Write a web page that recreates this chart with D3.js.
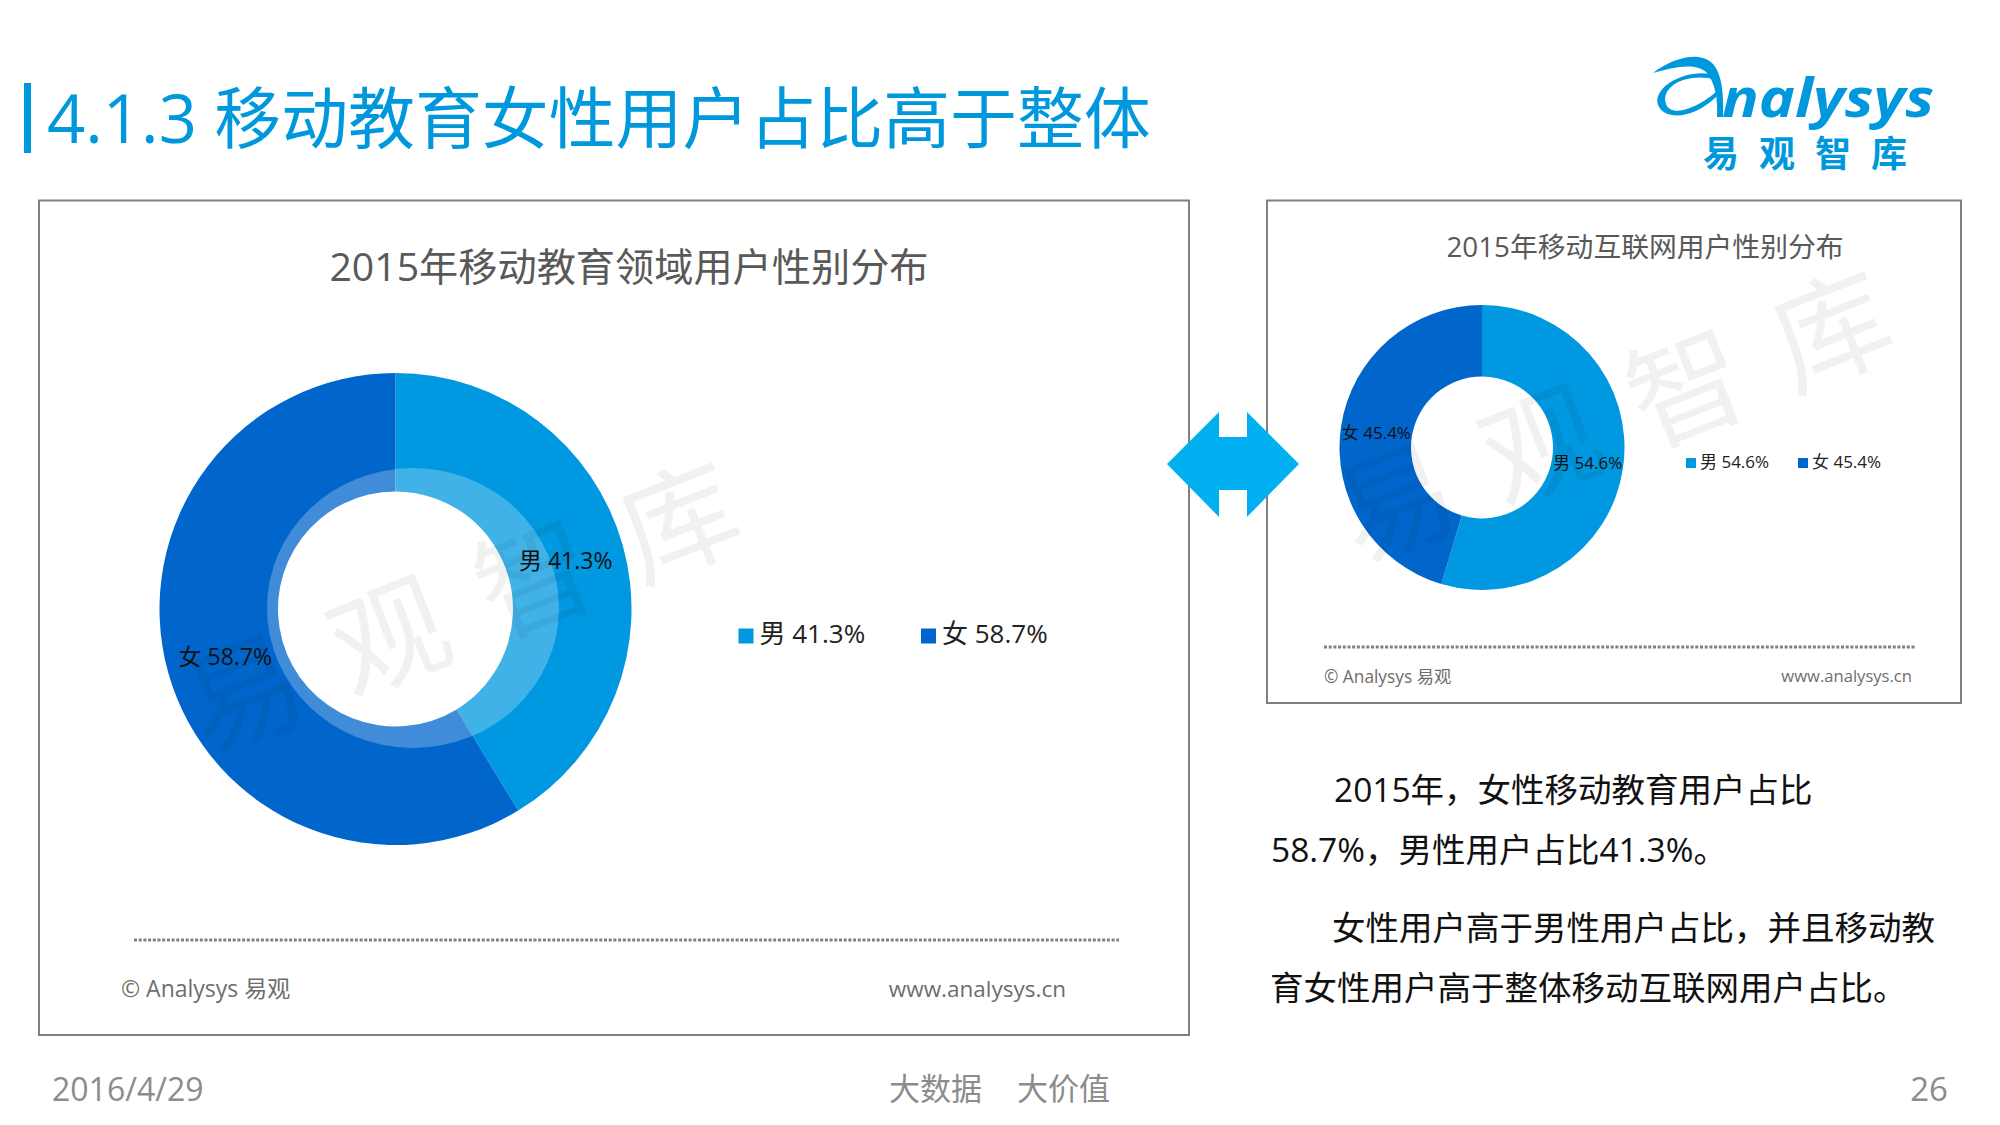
<!DOCTYPE html>
<html>
<head>
<meta charset="utf-8">
<script src="https://cdn.jsdelivr.net/npm/d3@7/dist/d3.min.js"></script>
<style>
html, body { margin: 0; padding: 0; background: #fff; }
svg { display: block; }
text { font-family: "Open Sans", "Noto Sans CJK SC", sans-serif; }
</style>
</head>
<body>
<div id="canvas"></div>
<script>
// Data
const genderCategories = ['男', '女']
const educationShares = [41.3, 58.7]
const mobileShares = [54.6, 45.4]
const pageTitle = '4.1.3 移动教育女性用户占比高于整体'
const educationTitle = '2015年移动教育领域用户性别分布'
const mobileTitle = '2015年移动互联网用户性别分布'
const bodyLines = [
	{text: '2015年，女性移动教育用户占比', x: 1334, y: 793},
	{text: '58.7%，男性用户占比41.3%。', x: 1271, y: 853},
	{text: '女性用户高于男性用户占比，并且移动教', x: 1332, y: 931},
	{text: '育女性用户高于整体移动互联网用户占比。', x: 1270, y: 991},
]

const colors = {
	title: '#0098dc',
	male: '#0098e0',
	female: '#0066cc',
	arrow: '#00b0f0',
	frame: '#808080',
	chartTitle: '#595959',
	footer: '#6e6e6e',
	page: '#8c8c8c',
}

const width = 2000, height = 1125
const svg = d3.select('#canvas').append('svg').attr('width', width).attr('height', height)
const colorScale = d3.scaleOrdinal().domain(genderCategories).range([colors.male, colors.female])

function addText(parent, str, x, y, size, fill, anchor) {
	return parent.append('text')
		.attr('x', x).attr('y', y)
		.attr('font-size', size)
		.attr('fill', fill)
		.attr('text-anchor', anchor || 'start')
		.attr('dominant-baseline', 'middle')
		.text(str)
}

// One framed panel: title, donut, legend, dotted rule, footer
function drawPanel(cfg) {
	const g = svg.append('g')
	g.append('rect')
		.attr('x', cfg.frame[0]).attr('y', cfg.frame[1])
		.attr('width', cfg.frame[2] - cfg.frame[0]).attr('height', cfg.frame[3] - cfg.frame[1])
		.attr('fill', '#fff').attr('stroke', colors.frame).attr('stroke-width', 2)

	addText(g, cfg.title, cfg.titleX, cfg.titleY, cfg.titleSize, colors.chartTitle, 'middle')

	const rows = genderCategories.map((name, i) => ({name, value: cfg.values[i]}))
	const pie = d3.pie().sort(null).value(d => d.value)
	const arc = d3.arc().innerRadius(cfg.inner).outerRadius(cfg.outer)
	const arcs = pie(rows)
	const donut = g.append('g').attr('transform', `translate(${cfg.cx},${cfg.cy})`)

	donut.selectAll('.slice').data(arcs).enter()
		.append('path')
		.classed('slice', true)
		.attr('d', arc)
		.attr('fill', d => colorScale(d.data.name))

	// Pale halo around the hole, sits off-centre in the original
	if (cfg.glow) {
		donut.append('ellipse')
			.attr('cx', cfg.glow.dx).attr('cy', cfg.glow.dy)
			.attr('rx', cfg.glow.rx).attr('ry', cfg.glow.ry)
			.attr('fill', '#fff')
			.attr('fill-opacity', 0.25)
	}

	donut.selectAll('.label').data(arcs).enter()
		.append('text')
		.classed('label', true)
		.attr('transform', d => {
			const [x, y] = arc.centroid(d)
			return `translate(${x},${y + 2})`
		})
		.attr('text-anchor', 'middle')
		.attr('dominant-baseline', 'middle')
		.attr('font-size', cfg.labelSize)
		.attr('fill', '#111')
		.text(d => `${d.data.name} ${d.data.value}%`)

	const legend = g.selectAll('.legend').data(rows).enter()
		.append('g')
		.classed('legend', true)
		.attr('transform', (d, i) => `translate(${cfg.legendX[i]},${cfg.legendY})`)
	legend.append('rect')
		.attr('x', 0).attr('y', -cfg.swatch / 2)
		.attr('width', cfg.swatch).attr('height', cfg.swatch)
		.attr('fill', d => colorScale(d.name))
	legend.append('text')
		.attr('x', cfg.swatch + cfg.legendGap)
		.attr('dominant-baseline', 'middle')
		.attr('font-size', cfg.legendSize)
		.attr('fill', '#222')
		.text(d => `${d.name} ${d.value}%`)

	g.append('line')
		.attr('x1', cfg.rule[0]).attr('x2', cfg.rule[1])
		.attr('y1', cfg.rule[2]).attr('y2', cfg.rule[2])
		.attr('stroke', colors.frame).attr('stroke-width', 3)
		.attr('stroke-dasharray', '3 1.7')

	addText(g, '© Analysys 易观', cfg.rule[0] + cfg.footerLeft, cfg.footerY, cfg.footerSizes[0], colors.footer)
	addText(g, 'www.analysys.cn', cfg.footerRight, cfg.footerY, cfg.footerSizes[1], colors.footer, 'end')
}

drawPanel({
	frame: [39, 200.5, 1189, 1035],
	title: educationTitle, titleX: 629, titleY: 271, titleSize: 39.2,
	values: educationShares,
	cx: 395.5, cy: 609, inner: 117.5, outer: 236,
	glow: {dx: 17.5, dy: -1, rx: 146, ry: 140},
	labelSize: 23,
	legendX: [738.5, 921], legendY: 636, swatch: 15, legendGap: 6, legendSize: 26,
	rule: [134, 1119, 940],
	footerLeft: -13, footerY: 991, footerSizes: [23, 22.5], footerRight: 1066,
})

drawPanel({
	frame: [1267, 200.5, 1961, 703],
	title: mobileTitle, titleX: 1645, titleY: 250, titleSize: 27.8,
	values: mobileShares,
	cx: 1482, cy: 447.5, inner: 71, outer: 142.5,
	labelSize: 17,
	legendX: [1686, 1798], legendY: 463, swatch: 10, legendGap: 4, legendSize: 17,
	rule: [1324, 1916, 647],
	footerLeft: 0, footerY: 678, footerSizes: [17.3, 16.6], footerRight: 1912,
})

// Page heading
svg.append('rect').attr('x', 24).attr('y', 83).attr('width', 7).attr('height', 70).attr('fill', colors.title)
addText(svg, pageTitle, 47, 125, 66.9, colors.title)

// Double arrow between the panels
const arrowOutline = [[1167, 464], [1219, 412], [1219, 437], [1247, 437], [1247, 412], [1299, 464], [1247, 517], [1247, 490], [1219, 490], [1219, 517]]
svg.append('path').attr('d', d3.line()(arrowOutline) + 'Z').attr('fill', colors.arrow)

// Body copy
svg.selectAll('.body-line').data(bodyLines).enter()
	.append('text')
	.classed('body-line', true)
	.attr('x', d => d.x).attr('y', d => d.y)
	.attr('dominant-baseline', 'middle')
	.attr('font-size', 33.5)
	.attr('fill', '#111')
	.text(d => d.text)

// Page footer
addText(svg, '2016/4/29', 52, 1092, 32, colors.page)
addText(svg, '大数据', 889, 1092, 31, colors.page)
addText(svg, '大价值', 1017, 1092, 31, colors.page)
addText(svg, '26', 1948, 1092, 33, colors.page, 'end')

// Logo
const logo = svg.append('g')
logo.append('path')
	.attr('d', 'M1653,73 C1672,58 1700,50 1713,64 C1722,74 1724,95 1723,117 L1717,117 C1718,98 1715,82 1706,72 C1694,62 1672,68 1653,73 Z')
	.attr('fill', colors.title)
logo.append('path')
	.attr('d', 'M1716,80 C1690,72 1660,85 1666,104 C1670,116 1692,112 1716,92 L1716,97 C1692,120 1664,120 1658,105 C1652,86 1690,66 1718,76 Z')
	.attr('fill', colors.title)
logo.append('text')
	.attr('x', 1722).attr('y', 117)
	.attr('font-size', 53).attr('font-weight', 700).attr('font-style', 'italic')
	.attr('textLength', 212).attr('lengthAdjust', 'spacingAndGlyphs')
	.attr('fill', colors.title)
	.text('nalysys')
logo.append('text')
	.attr('x', 1703).attr('y', 167)
	.attr('font-size', 36).attr('font-weight', 700)
	.attr('letter-spacing', 20)
	.attr('fill', colors.title)
	.text('易观智库')

// Watermarks, anchored on the middle of the first glyph
const watermarks = [{x: 248, y: 704}, {x: 1400, y: 513}]
svg.selectAll('.watermark').data(watermarks).enter()
	.append('text')
	.classed('watermark', true)
	.attr('transform', d => `translate(${d.x},${d.y}) rotate(-21.5)`)
	.attr('x', -58)
	.attr('dominant-baseline', 'middle')
	.attr('font-size', 116)
	.attr('letter-spacing', 40)
	.attr('fill', '#000')
	.attr('fill-opacity', 0.055)
	.text('易观智库')
</script>
</body>
</html>
